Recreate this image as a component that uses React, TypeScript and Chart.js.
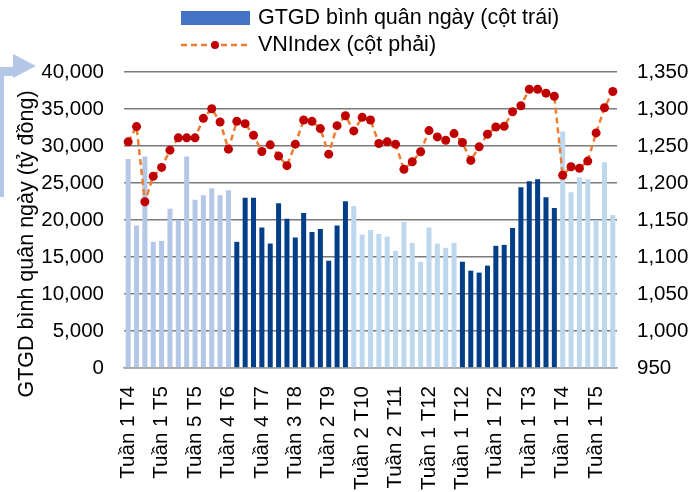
import React, { useEffect, useRef } from "react";
import { Chart, registerables } from "chart.js";
Chart.register(...registerables);

const weekLabels = [
  "Tuần 1 T4", "Tuần 1 T5", "Tuần 5 T5", "Tuần 4 T6", "Tuần 4 T7", "Tuần 3 T8", "Tuần 2 T9",
  "Tuần 2 T10", "Tuần 2 T11", "Tuần 1 T12", "Tuần 1 T12", "Tuần 1 T2", "Tuần 1 T3", "Tuần 1 T4", "Tuần 1 T5",
];

const gtgd = [
  28230, 19240, 28590, 17050, 17180, 21520, 20000, 28590, 22730, 23360, 24300, 23360, 24030,
  17050, 23000, 23000, 18970, 16820, 22280, 20180, 17630, 20940, 18390, 18790, 14500, 19240, 22550,
  21880, 18030, 18660, 18120, 17720, 15840, 19730, 16910, 14360, 18970, 16820, 16240, 16910,
  14360, 13150, 12890, 13830, 16510, 16640, 18930, 24430, 25240, 25500, 23090, 21610,
  31950, 23760, 25770, 25500, 20000, 27790, 20670,
];

const vnindex = [
  1255.6, 1276.2, 1174.6, 1209.1, 1221.1, 1244.4, 1261, 1261, 1261, 1287.4, 1300.3, 1282.4, 1245.7,
  1283.3, 1280.2, 1264.5, 1242.6, 1251.6, 1236.4, 1223.4, 1252.5, 1285.1, 1283.3, 1273.5, 1239, 1277.5, 1290.9,
  1270.4, 1288.7, 1285.1, 1253.4, 1255.6, 1252.5, 1218.5, 1228.7, 1242.2, 1270.8, 1262.3, 1257.8, 1266.8,
  1254.7, 1230.5, 1248.9, 1265.9, 1275.7, 1276.6, 1296.3, 1304.4, 1326.7, 1326.7, 1321.4, 1317.3,
  1210.4, 1222, 1219.8, 1229.6, 1267.7, 1301.7, 1323.6,
];

// number of consecutive bars in each colour block
const colorSegments = [13, 14, 13, 12, 7];

const seriesNames = ["GTGD bình quân ngày (cột trái)", "VNIndex (cột phải)"];
const leftAxisTitle = "GTGD bình quân ngày (tỷ đồng)";

const segmentPalette = ["#B4C7E7", "#023F88", "#BDD7EE", "#023F88", "#BDD7EE"];
const FONT = "'Liberation Sans', Arial, sans-serif";

export default function App() {
  const ref = useRef<HTMLCanvasElement | null>(null);

  useEffect(() => {
    if (!ref.current) return;
    const labels = gtgd.map((_, i) => (i % 4 === 0 ? weekLabels[i / 4] ?? "" : ""));
    const barColors: string[] = [];
    colorSegments.forEach((n, s) => {
      for (let k = 0; k < n; k++) barColors.push(segmentPalette[s]);
    });

    const deco = {
      id: "deco",
      afterDraw(chart: any) {
        const ctx = chart.ctx as CanvasRenderingContext2D;
        ctx.save();
        // arrow decoration
        ctx.fillStyle = "#B4C7E7";
        ctx.fillRect(0, 67, 4, 130);
        ctx.fillRect(0, 67, 14, 9);
        ctx.beginPath();
        ctx.moveTo(13, 54);
        ctx.lineTo(36, 66);
        ctx.lineTo(13, 78);
        ctx.closePath();
        ctx.fill();

        // left axis title
        ctx.fillStyle = "#000";
        ctx.font = `21.5px ${FONT}`;
        ctx.translate(33, 244);
        ctx.rotate(-Math.PI / 2);
        ctx.textAlign = "center";
        ctx.textBaseline = "alphabetic";
        ctx.fillText(leftAxisTitle, 0, 0);
        ctx.restore();

        // legend
        ctx.save();
        ctx.font = `21.5px ${FONT}`;
        ctx.fillStyle = "#4472C4";
        ctx.fillRect(181, 11, 69, 14);
        ctx.fillStyle = "#000";
        ctx.textAlign = "left";
        ctx.textBaseline = "middle";
        ctx.fillText(seriesNames[0], 258, 18);
        ctx.strokeStyle = "#ED7D31";
        ctx.lineWidth = 2.5;
        ctx.setLineDash([6, 4]);
        ctx.beginPath();
        ctx.moveTo(181, 45);
        ctx.lineTo(247, 45);
        ctx.stroke();
        ctx.setLineDash([]);
        ctx.fillStyle = "#C00000";
        ctx.beginPath();
        ctx.arc(215, 45, 4, 0, Math.PI * 2);
        ctx.fill();
        ctx.fillStyle = "#000";
        ctx.fillText(seriesNames[1], 258, 45);
        ctx.restore();
      },
    };

    const chart = new Chart(ref.current, {
      type: "bar",
      data: {
        labels,
        datasets: [
          {
            type: "line",
            label: seriesNames[1],
            data: vnindex,
            yAxisID: "y1",
            borderColor: "#ED7D31",
            borderWidth: 2.5,
            borderDash: [6, 4],
            pointRadius: 4.5,
            pointBackgroundColor: "#C00000",
            pointBorderWidth: 0,
            tension: 0,
            order: 0,
          } as any,
          {
            type: "bar",
            label: seriesNames[0],
            data: gtgd,
            yAxisID: "y",
            backgroundColor: barColors,
            categoryPercentage: 1,
            barPercentage: 0.6,
            order: 1,
          },
        ],
      },
      options: {
        responsive: false,
        animation: false,
        devicePixelRatio: 1,
        locale: "en-US",
        layout: { padding: { top: 72, left: 0, right: 0, bottom: 0 } },
        plugins: { legend: { display: false }, tooltip: { enabled: false } },
        scales: {
          x: {
            grid: { display: false, drawTicks: false },
            border: { display: true, color: "#A6A6A6", width: 1.5 },
            ticks: {
              autoSkip: false,
              minRotation: 90,
              maxRotation: 90,
              padding: 18,
              color: "#000",
              font: { family: FONT, size: 20.5 },
            },
            afterFit: (s: any) => {
              s.height = 124;
              s.paddingLeft = 0;
              s.paddingRight = 0;
            },
          },
          y: {
            position: "left",
            min: 0,
            max: 40000,
            grid: { color: "#7A7A7A", lineWidth: 1.5, drawTicks: false },
            border: { display: false },
            ticks: {
              stepSize: 5000,
              padding: 20,
              color: "#000",
              font: { family: FONT, size: 20.5 },
            },
            afterFit: (s: any) => {
              s.width = 124;
              s.paddingTop = 0;
              s.paddingBottom = 0;
            },
          },
          y1: {
            position: "right",
            min: 950,
            max: 1350,
            grid: { display: false, drawTicks: false },
            border: { display: false },
            ticks: {
              stepSize: 50,
              padding: 20,
              color: "#000",
              font: { family: FONT, size: 20.5 },
            },
            afterFit: (s: any) => {
              s.width = 76;
              s.paddingTop = 0;
              s.paddingBottom = 0;
            },
          },
        },
      },
      plugins: [deco],
    });
    return () => chart.destroy();
  }, []);

  return (
    <div style={{ position: "absolute", left: 0, top: 0, width: 693, height: 492, background: "#fff" }}>
      <canvas ref={ref} width={693} height={492} style={{ width: 693, height: 492 }} />
    </div>
  );
}
